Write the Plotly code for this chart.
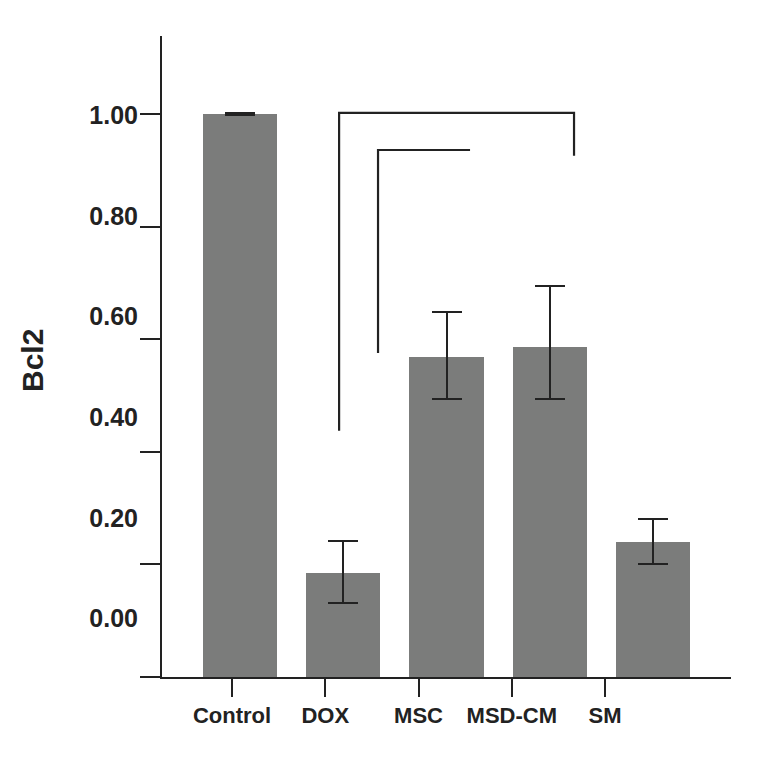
import plotly.graph_objects as go

groups = ["Control", "DOX", "MSC", "MSD-CM", "SM"]
bcl2 = [1.0, 0.185, 0.569, 0.587, 0.240]
err_plus = [0.002, 0.057, 0.079, 0.107, 0.041]
err_minus = [0.002, 0.054, 0.075, 0.093, 0.039]

y_ticks = [0.0, 0.2, 0.4, 0.6, 0.8, 1.0]
y_labels = ["0.00", "0.20", "0.40", "0.60", "0.80", "1.00"]

ink = "#222222"
bar_color = "#7b7c7b"
font = "Liberation Sans, Arial, sans-serif"

fig = go.Figure()
fig.add_trace(go.Bar(
    x=groups, y=bcl2, xaxis="x2", yaxis="y",
    width=0.72, marker_color=bar_color, marker_line_width=0,
    error_y=dict(type="data", symmetric=False, array=err_plus, arrayminus=err_minus,
                 color=ink, thickness=2, width=15),
    showlegend=False,
))
# invisible trace so the label axes get drawn
fig.add_trace(go.Scatter(x=groups, y=[None] * len(groups), xaxis="x", yaxis="y2",
                         mode="markers", showlegend=False, hoverinfo="skip"))

# significance brackets (DOX vs MSD-CM, DOX vs MSC)
brackets = [
    [(0.96, 0.4375), (0.96, 1.002), (3.235, 1.002), (3.235, 0.926)],
    [(1.337, 0.5755), (1.337, 0.936), (2.228, 0.936)],
]
for pts in brackets:
    path = "M " + " L ".join(f"{x},{y}" for x, y in pts)
    fig.add_shape(type="path", path=path, xref="x2", yref="y",
                  line=dict(color=ink, width=2.2))

fig.update_layout(
    width=771, height=766,
    margin=dict(l=162, r=40, t=36, b=89),
    plot_bgcolor="white", paper_bgcolor="white",
    font=dict(family=font, color=ink),
    bargap=0,
    xaxis=dict(
        type="category", range=[-0.751, 5.351],
        showline=True, linecolor=ink, linewidth=2,
        ticks="outside", ticklen=18, tickwidth=2, tickcolor=ink,
        tickfont=dict(size=22, family=font, color=ink, weight="bold"),
        showgrid=False, zeroline=False, fixedrange=True,
    ),
    xaxis2=dict(
        type="category", range=[-0.755, 4.755], overlaying="x",
        visible=False, showgrid=False, fixedrange=True,
    ),
    yaxis=dict(
        range=[0, 1.1385],
        showline=True, linecolor=ink, linewidth=2,
        tickmode="array", tickvals=y_ticks, ticks="outside", ticklen=20,
        tickwidth=2, tickcolor=ink, showticklabels=False,
        showgrid=False, zeroline=False, fixedrange=True,
    ),
    yaxis2=dict(
        range=[-0.1163, 1.158], overlaying="y", side="left",
        tickmode="array", tickvals=y_ticks, ticktext=y_labels,
        ticks="outside", ticklen=18, tickcolor="rgba(0,0,0,0)",
        tickfont=dict(size=25, family=font, color=ink, weight="bold"),
        showline=False, showgrid=False, zeroline=False, fixedrange=True,
    ),
)

fig.add_annotation(
    text="<b>Bcl2</b>", xref="paper", yref="paper",
    x=(32 - 162) / 569, y=(677 - 361) / 641, xanchor="center", yanchor="middle",
    textangle=-90, showarrow=False, font=dict(size=30, family=font, color=ink),
)

fig.write_html("out.html", config={"displayModeBar": False},
               post_script="document.body.style.margin = '0';")
